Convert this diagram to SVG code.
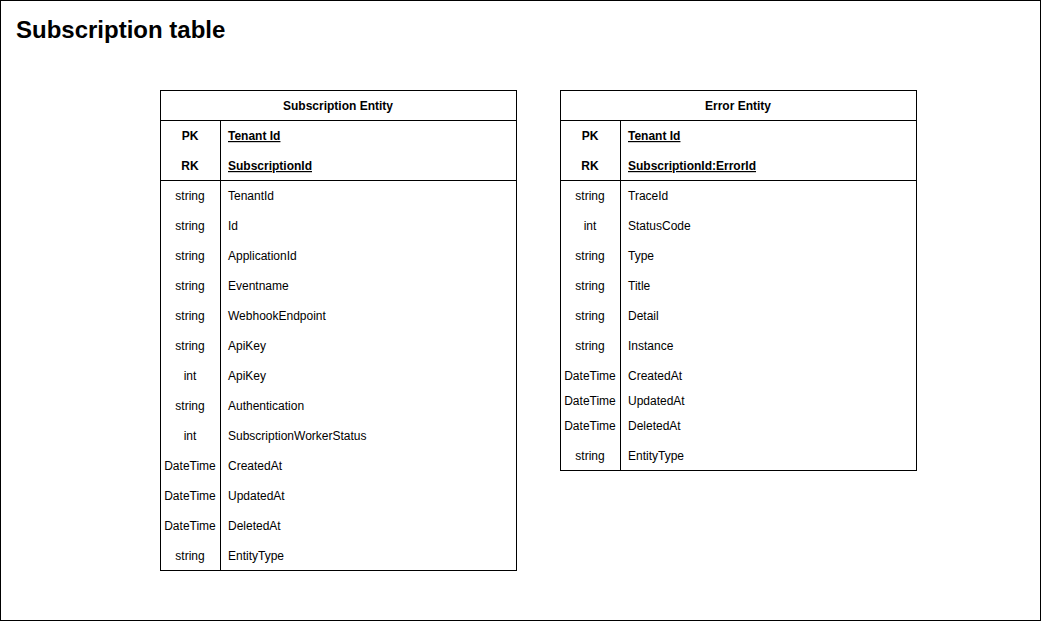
<svg xmlns="http://www.w3.org/2000/svg" width="1041" height="621" viewBox="0 0 1041 621">
<style>
text{font-family:"Liberation Sans",Arial,sans-serif;font-size:12px;fill:#000}
.t{font-size:24px;font-weight:bold}
.h{font-weight:bold;text-anchor:middle}
.k{font-weight:bold;text-anchor:middle}
.kn{font-weight:bold;text-decoration:underline}
.ty{text-anchor:middle}
.box{fill:#fff;stroke:#000;stroke-width:1}
.ln{stroke:#000;stroke-width:1;fill:none}
</style>
<rect x="0.5" y="0.5" width="1040" height="620" fill="#fff" stroke="#000"/>
<text class="t" x="16" y="38">Subscription table</text>
<g id="subscription-entity">
<rect class="box" x="160.5" y="90.5" width="356" height="480"/>
<line class="ln" x1="160.5" y1="120.5" x2="516.5" y2="120.5"/>
<line class="ln" x1="160.5" y1="180.5" x2="516.5" y2="180.5"/>
<line class="ln" x1="220.5" y1="120.5" x2="220.5" y2="570.5"/>
<text class="h" x="338" y="110">Subscription Entity</text>
<text class="k" x="190" y="140">PK</text><text class="kn" x="228" y="140">Tenant Id</text>
<text class="k" x="190" y="170">RK</text><text class="kn" x="228" y="170">SubscriptionId</text>
<text class="ty" x="190" y="200">string</text><text x="228" y="200">TenantId</text>
<text class="ty" x="190" y="230">string</text><text x="228" y="230">Id</text>
<text class="ty" x="190" y="260">string</text><text x="228" y="260">ApplicationId</text>
<text class="ty" x="190" y="290">string</text><text x="228" y="290">Eventname</text>
<text class="ty" x="190" y="320">string</text><text x="228" y="320">WebhookEndpoint</text>
<text class="ty" x="190" y="350">string</text><text x="228" y="350">ApiKey</text>
<text class="ty" x="190" y="380">int</text><text x="228" y="380">ApiKey</text>
<text class="ty" x="190" y="410">string</text><text x="228" y="410">Authentication</text>
<text class="ty" x="190" y="440">int</text><text x="228" y="440">SubscriptionWorkerStatus</text>
<text class="ty" x="190" y="470">DateTime</text><text x="228" y="470">CreatedAt</text>
<text class="ty" x="190" y="500">DateTime</text><text x="228" y="500">UpdatedAt</text>
<text class="ty" x="190" y="530">DateTime</text><text x="228" y="530">DeletedAt</text>
<text class="ty" x="190" y="560">string</text><text x="228" y="560">EntityType</text>
</g>
<g id="error-entity">
<rect class="box" x="560.5" y="90.5" width="356" height="380"/>
<line class="ln" x1="560.5" y1="120.5" x2="916.5" y2="120.5"/>
<line class="ln" x1="560.5" y1="180.5" x2="916.5" y2="180.5"/>
<line class="ln" x1="620.5" y1="120.5" x2="620.5" y2="470.5"/>
<text class="h" x="738" y="110">Error Entity</text>
<text class="k" x="590" y="140">PK</text><text class="kn" x="628" y="140">Tenant Id</text>
<text class="k" x="590" y="170">RK</text><text class="kn" x="628" y="170">SubscriptionId:ErrorId</text>
<text class="ty" x="590" y="200">string</text><text x="628" y="200">TraceId</text>
<text class="ty" x="590" y="230">int</text><text x="628" y="230">StatusCode</text>
<text class="ty" x="590" y="260">string</text><text x="628" y="260">Type</text>
<text class="ty" x="590" y="290">string</text><text x="628" y="290">Title</text>
<text class="ty" x="590" y="320">string</text><text x="628" y="320">Detail</text>
<text class="ty" x="590" y="350">string</text><text x="628" y="350">Instance</text>
<text class="ty" x="590" y="380">DateTime</text><text x="628" y="380">CreatedAt</text>
<text class="ty" x="590" y="405">DateTime</text><text x="628" y="405">UpdatedAt</text>
<text class="ty" x="590" y="430">DateTime</text><text x="628" y="430">DeletedAt</text>
<text class="ty" x="590" y="460">string</text><text x="628" y="460">EntityType</text>
</g>
<g id="connectors"></g>
</svg>
